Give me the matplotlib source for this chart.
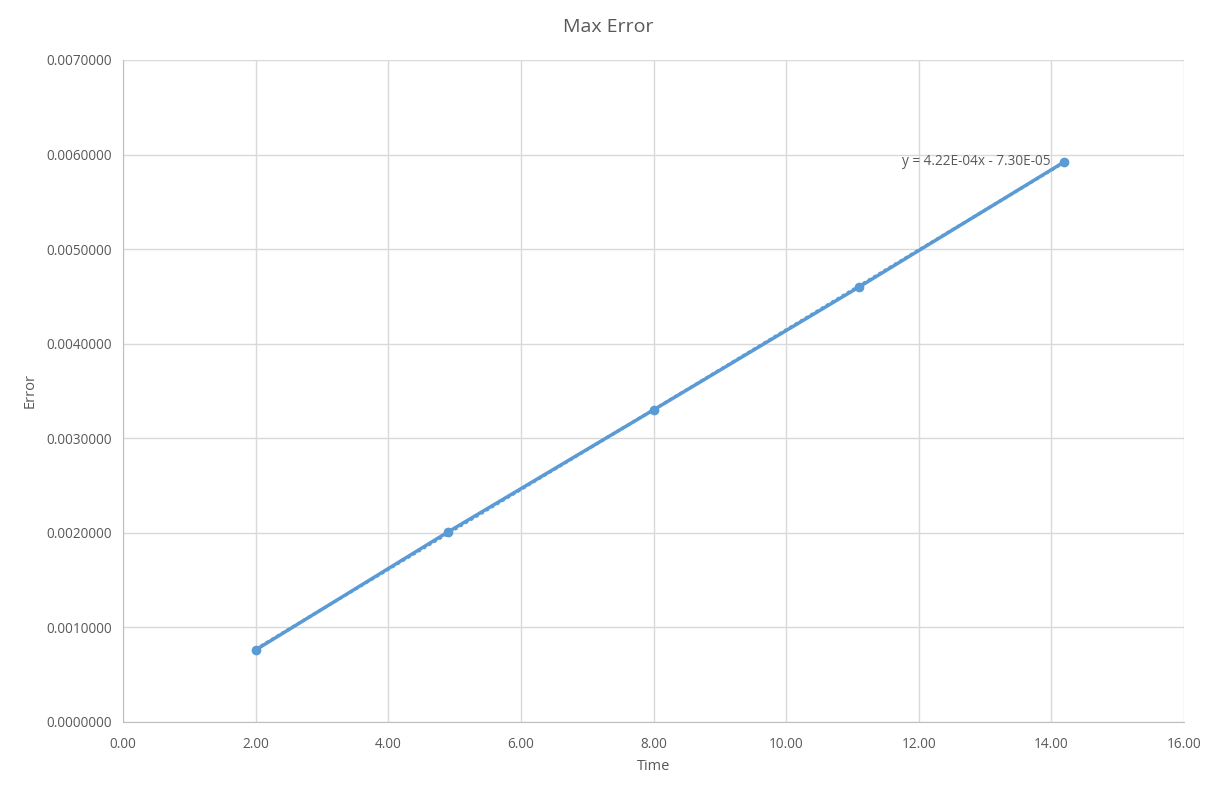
import numpy as np
import matplotlib.pyplot as plt
from matplotlib.ticker import FormatStrFormatter

plt.rcParams['font.family'] = ['Open Sans', 'DejaVu Sans']

# Data
time = [2.00, 4.90, 8.00, 11.10, 14.19]
max_error = [0.000762, 0.002009, 0.003300, 0.004600, 0.005921]
trend_label = "y = 4.22E-04x - 7.30E-05"

blue = '#5B9BD5'
grey_text = '#595959'
grid_col = '#D9D9D9'

fig = plt.figure(figsize=(12.17, 7.87), dpi=100)
ax = fig.add_axes([0.1011, 0.0826, 0.8718, 0.8412])

# Linear trendline (dotted)
slope, intercept = np.polyfit(time, max_error, 1)
tx = np.array([time[0], time[-1]])
ax.plot(tx, slope * tx + intercept, color=blue, lw=2.2, ls=(0, (1, 1)), zorder=2)

# Series
ax.plot(time, max_error, color=blue, lw=2.5, marker='o', markersize=6,
        solid_capstyle='round', zorder=3)

ax.text(time[-1] - 0.2, max_error[-1] + 0.00001, trend_label, ha='right', va='center',
        fontsize=9.8, color=grey_text)

ax.set_xlim(0, 16)
ax.set_ylim(0, 0.007)
ax.set_xticks(np.arange(0, 16.1, 2))
ax.set_yticks(np.arange(0, 0.00701, 0.001))
ax.xaxis.set_major_formatter(FormatStrFormatter('%.2f'))
ax.yaxis.set_major_formatter(FormatStrFormatter('%.7f'))

ax.grid(True, color=grid_col, lw=1)
ax.set_axisbelow(True)
for side in ['top', 'right']:
    ax.spines[side].set_visible(False)
for side in ['left', 'bottom']:
    ax.spines[side].set_color('#BFBFBF')
ax.tick_params(length=0, labelsize=9.8, colors=grey_text)
ax.tick_params(axis='x', pad=11)
ax.tick_params(axis='y', pad=8)

ax.set_xlabel("Time", fontsize=10.5, color=grey_text, labelpad=5)
ax.set_ylabel("Error", fontsize=10.5, color=grey_text, labelpad=6)
fig.suptitle("Max Error", fontsize=14, color=grey_text, y=0.966, va='center')

plt.savefig("out.png", dpi=100)
